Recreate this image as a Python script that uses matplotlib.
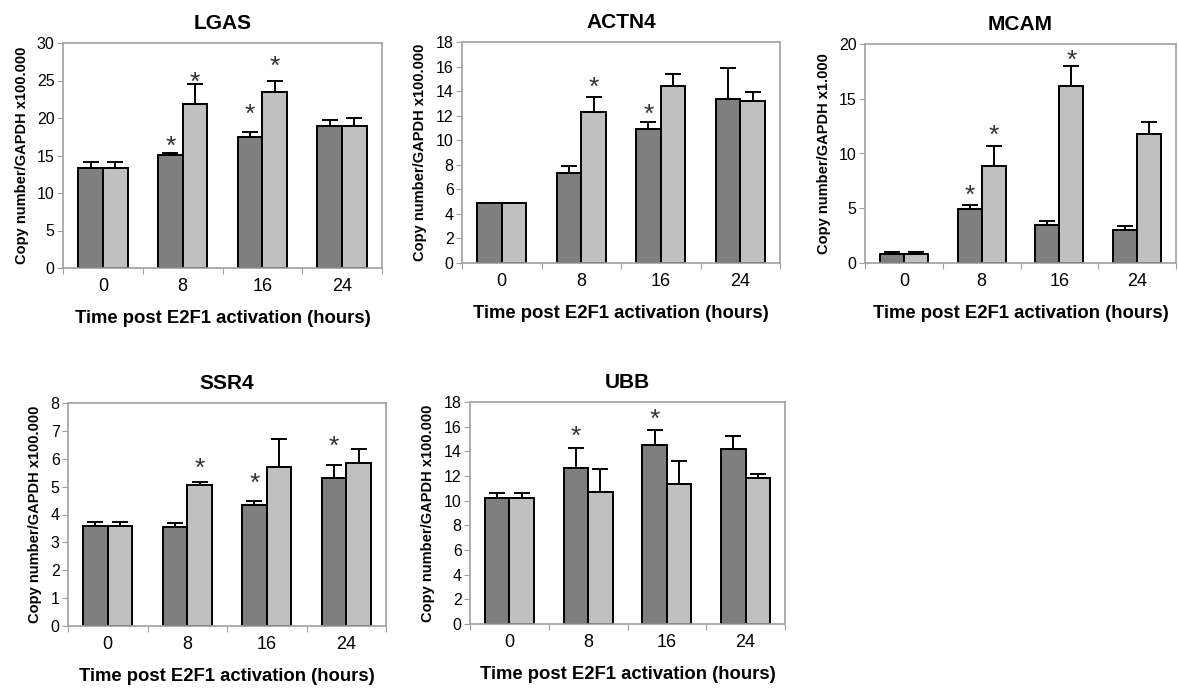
import numpy as np
import matplotlib
matplotlib.use("Agg")
import matplotlib.pyplot as plt

plt.rcParams['font.family'] = ['Liberation Sans', 'DejaVu Sans']

hours = ['0', '8', '16', '24']

# LGAS
lgas_dark = [13.3, 15.1, 17.5, 18.9]
lgas_dark_err = [14.2, 15.3, 18.2, 19.7]
lgas_light = [13.3, 21.9, 23.5, 18.9]
lgas_light_err = [14.2, 24.5, 25.0, 20.0]
lgas_stars_dark = [None, 17.1, 21.3, None]
lgas_stars_light = [None, 25.6, 27.8, None]

# ACTN4
actn4_dark = [4.85, 7.3, 10.9, 13.35]
actn4_dark_err = [4.85, 7.9, 11.5, 15.85]
actn4_light = [4.85, 12.3, 14.4, 13.2]
actn4_light_err = [4.85, 13.55, 15.4, 13.9]
actn4_stars_dark = [None, None, 12.6, None]
actn4_stars_light = [None, 14.8, None, None]

# MCAM
mcam_dark = [0.85, 4.9, 3.5, 3.0]
mcam_dark_err = [1.0, 5.3, 3.8, 3.37]
mcam_light = [0.85, 8.9, 16.2, 11.8]
mcam_light_err = [1.0, 10.65, 18.0, 12.9]
mcam_stars_dark = [None, 6.8, None, None]
mcam_stars_light = [None, 12.2, 19.1, None]

# SSR4
ssr4_dark = [3.6, 3.55, 4.33, 5.32]
ssr4_dark_err = [3.73, 3.7, 4.49, 5.78]
ssr4_light = [3.6, 5.07, 5.69, 5.83]
ssr4_light_err = [3.73, 5.17, 6.72, 6.36]
ssr4_stars_dark = [None, None, 5.35, 6.66]
ssr4_stars_light = [None, 5.88, None, None]

# UBB
ubb_dark = [10.2, 12.68, 14.5, 14.17]
ubb_dark_err = [10.66, 14.27, 15.76, 15.25]
ubb_light = [10.2, 10.7, 11.33, 11.85]
ubb_light_err = [10.66, 12.6, 13.2, 12.17]
ubb_stars_dark = [None, 15.7, 17.1, None]
ubb_stars_light = [None, None, None, None]

W, H = 1178, 692
dark_col = '#7f7f7f'
light_col = '#c0c0c0'
spine_col = '#a0a0a0'


def draw_panel(box, title, ylabel, ymax, ystep, dark, dark_err, light, light_err, st_d, st_l):
    l, t, r, b = box
    ax = fig.add_axes([l / W, 1 - b / H, (r - l) / W, (b - t) / H])
    x = np.arange(len(hours))
    w = 0.31
    ax.bar(x - w / 2, dark, w, color=dark_col, edgecolor='black', linewidth=1.4, zorder=2)
    ax.bar(x + w / 2, light, w, color=light_col, edgecolor='black', linewidth=1.4, zorder=2)
    up_d = np.array(dark_err) - np.array(dark)
    up_l = np.array(light_err) - np.array(light)
    ax.errorbar(x - w / 2, dark, yerr=[np.zeros(4), up_d], fmt='none', ecolor='black',
                elinewidth=1.4, capsize=6, capthick=1.4, zorder=3)
    ax.errorbar(x + w / 2, light, yerr=[np.zeros(4), up_l], fmt='none', ecolor='black',
                elinewidth=1.4, capsize=6, capthick=1.4, zorder=3)
    # asterisks (shifted down a bit, the glyph sits high in its box)
    for i in range(4):
        if st_d[i] is not None:
            ax.annotate('*', (x[i] - w / 2, st_d[i]), xytext=(0, -5), textcoords='offset points',
                        ha='center', va='center', fontsize=19, color='#333333')
        if st_l[i] is not None:
            ax.annotate('*', (x[i] + w / 2, st_l[i]), xytext=(0, -5), textcoords='offset points',
                        ha='center', va='center', fontsize=19, color='#333333')
    ax.set_xlim(-0.5, 3.5)
    ax.set_ylim(0, ymax)
    ax.set_yticks(np.arange(0, ymax + 0.01, ystep))
    ax.set_xticks([-0.5, 0.5, 1.5, 2.5, 3.5])
    ax.set_xticklabels([])
    ax.set_xticks(x, minor=True)
    ax.set_xticklabels(hours, minor=True, fontsize=13)
    ax.tick_params(axis='x', which='minor', length=0, pad=7)
    ax.tick_params(axis='x', which='major', length=4, color=spine_col, direction='out')
    ax.tick_params(axis='y', length=4, color=spine_col, labelsize=11.5, pad=2)
    for s in ax.spines.values():
        s.set_color(spine_col)
        s.set_linewidth(1.2)
    ax.set_title(title, fontsize=15, fontweight='bold', pad=10)
    ax.set_ylabel(ylabel, fontsize=10.5, fontweight='bold', labelpad=6)
    ax.set_xlabel('Time post E2F1 activation (hours)', fontsize=13.3, fontweight='bold', labelpad=11)
    return ax


fig = plt.figure(figsize=(W / 100, H / 100), dpi=100)
draw_panel((63, 43, 382, 268), 'LGAS', 'Copy number/GAPDH x100.000', 30, 5,
           lgas_dark, lgas_dark_err, lgas_light, lgas_light_err, lgas_stars_dark, lgas_stars_light)
draw_panel((462, 42, 780, 263), 'ACTN4', 'Copy number/GAPDH x100.000', 18, 2,
           actn4_dark, actn4_dark_err, actn4_light, actn4_light_err, actn4_stars_dark, actn4_stars_light)
draw_panel((865, 44, 1176, 263), 'MCAM', 'Copy number/GAPDH x1.000', 20, 5,
           mcam_dark, mcam_dark_err, mcam_light, mcam_light_err, mcam_stars_dark, mcam_stars_light)
draw_panel((68, 403, 386, 626), 'SSR4', 'Copy number/GAPDH x100.000', 8, 1,
           ssr4_dark, ssr4_dark_err, ssr4_light, ssr4_light_err, ssr4_stars_dark, ssr4_stars_light)
draw_panel((470, 402, 785, 624), 'UBB', 'Copy number/GAPDH x100.000', 18, 2,
           ubb_dark, ubb_dark_err, ubb_light, ubb_light_err, ubb_stars_dark, ubb_stars_light)

fig.savefig('out.png', dpi=100)
